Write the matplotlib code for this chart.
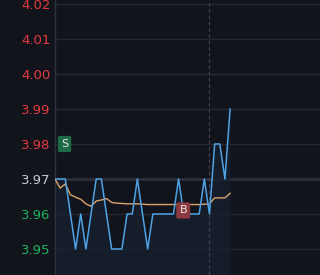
"""Intraday minute chart: price line, average price line, buy/sell markers."""
import matplotlib
matplotlib.use("Agg")
import matplotlib.pyplot as plt

BG = "#12141c"
GRID = "#252833"
PREV_LINE = "#2b2e3a"
SPINE = "#2e323d"
BLUE = "#4ea3e6"
ORANGE = "#d8a36a"
RED = "#e5393f"
GREEN = "#1fb35b"
NEUTRAL = "#c5c9d2"

# data
price = [3.97, 3.97, 3.97, 3.96, 3.95, 3.96, 3.95, 3.96, 3.97, 3.97,
         3.96, 3.95, 3.95, 3.95, 3.96, 3.96, 3.97, 3.96, 3.95, 3.96,
         3.96, 3.96, 3.96, 3.96, 3.97, 3.96, 3.96, 3.96, 3.96, 3.97,
         3.96, 3.98, 3.98, 3.97, 3.99]
avg_price = [3.9700, 3.9674, 3.9686, 3.9655, 3.9648, 3.9642, 3.9629, 3.9622, 3.9637, 3.9640,
             3.9644, 3.9633, 3.9631, 3.9630, 3.9629, 3.9629, 3.9629, 3.9628, 3.9627, 3.9627,
             3.9627, 3.9627, 3.9627, 3.9627, 3.9627, 3.9627, 3.9627, 3.9627, 3.9627, 3.9628,
             3.9629, 3.9646, 3.9646, 3.9646, 3.9659]
prev_close = 3.97
y_ticks = [3.95, 3.96, 3.97, 3.98, 3.99, 4.00, 4.01, 4.02]
sell_mark = (1.85, 3.98)
buy_mark = (24.9, 3.961)
cursor_idx = 30

fig = plt.figure(figsize=(3.2, 2.75), dpi=100, facecolor=BG)
ax = fig.add_axes([55 / 320, 0, 265 / 320, 1])
ax.set_facecolor(BG)

x = list(range(len(price)))
ax.set_xlim(0, 51.46)
ax.set_ylim(3.94257, 4.02114)

for t in y_ticks:
    if t != prev_close:
        ax.axhline(t, color=GRID, linewidth=1.0, zorder=1)
ax.axhline(prev_close, color=PREV_LINE, linewidth=2.2, zorder=1)

ax.fill_between(x, price, 3.94257, color="#172030", alpha=0.7, linewidth=0, zorder=2)
ax.plot(x, avg_price, color=ORANGE, linewidth=1.0, zorder=3)
ax.plot(x, price, color=BLUE, linewidth=1.1, zorder=4)
ax.axvline(cursor_idx, color="#3d404c", linewidth=0.9, linestyle=(0, (3, 2)), zorder=3)

for (mx, my), txt, col in [(sell_mark, "S", "#1d6b47"), (buy_mark, "B", "#8c3a3f")]:
    ax.text(mx, my, txt, ha="center", va="center", fontsize=8, color="#e8e8e8",
            zorder=6, bbox=dict(boxstyle="round,pad=0.28,rounding_size=0.15", fc=col, ec="none"))

ax.set_xticks([])
ax.set_yticks(y_ticks)
labels = []
for t in y_ticks:
    labels.append(f"{t:.2f}")
ax.set_yticklabels(labels, fontsize=9.5)
for lab, t in zip(ax.get_yticklabels(), y_ticks):
    lab.set_color(RED if t > prev_close else GREEN if t < prev_close else NEUTRAL)
ax.tick_params(axis="y", length=0, pad=3)

for s in ["top", "right", "bottom"]:
    ax.spines[s].set_visible(False)
ax.spines["left"].set_color(SPINE)
ax.spines["left"].set_linewidth(1.0)

fig.savefig("out.png", dpi=100, facecolor=BG)
